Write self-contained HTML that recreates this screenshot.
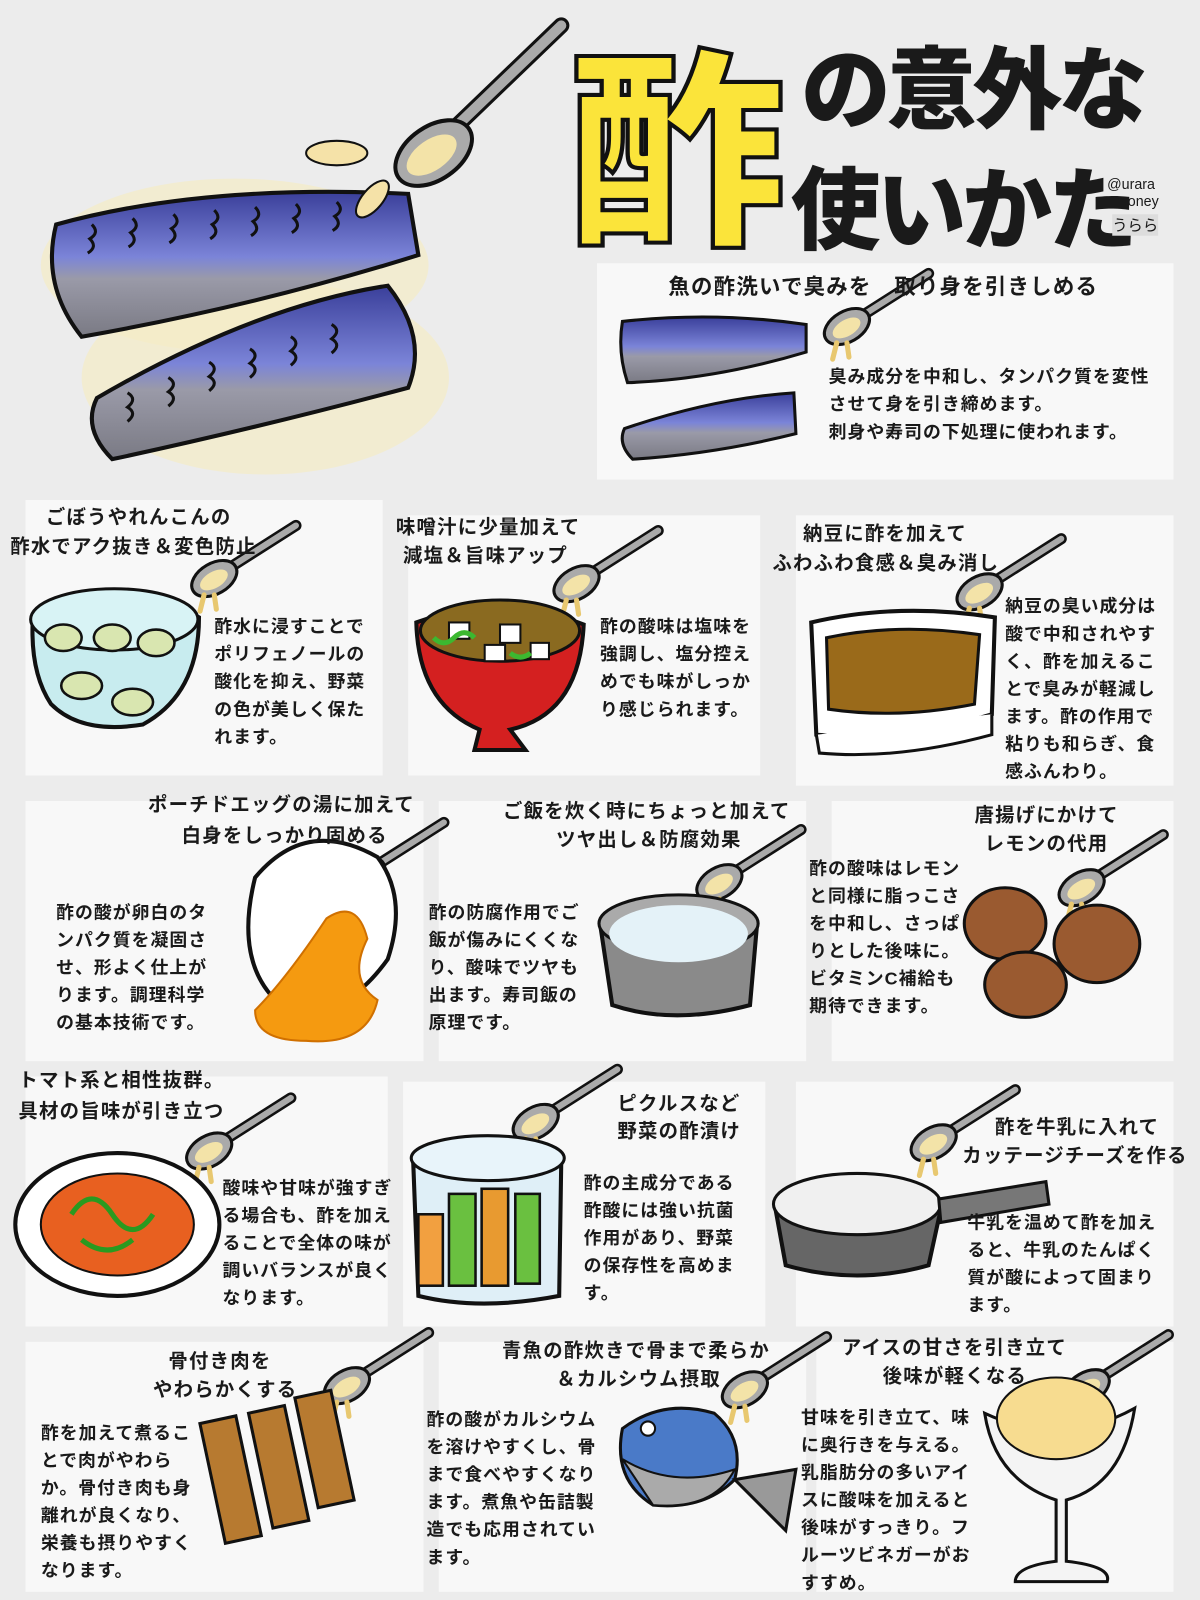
<!DOCTYPE html>
<html><head><meta charset="utf-8"><style>
html,body{margin:0;padding:0;background:#ececec;}
#w{position:relative;width:1176px;height:1568px;transform:scale(1.0204);transform-origin:0 0;overflow:hidden;background:#ececec;font-family:"Liberation Sans","Noto Sans CJK JP",sans-serif;color:#1a1a1a;}
.p{position:absolute;background:#f8f8f8;}
.t{position:absolute;font-size:17.5px;line-height:27px;font-weight:bold;letter-spacing:1px;white-space:nowrap;}
.h{position:absolute;font-size:19px;line-height:28px;font-weight:bold;letter-spacing:1.2px;white-space:nowrap;}
svg{position:absolute;left:0;top:0;}
</style></head><body><div id="w">
<div class="p" style="left:585px;top:258px;width:565px;height:212px"></div>
<div class="p" style="left:25px;top:490px;width:350px;height:270px"></div>
<div class="p" style="left:400px;top:505px;width:345px;height:255px"></div>
<div class="p" style="left:780px;top:505px;width:370px;height:265px"></div>
<div class="p" style="left:25px;top:785px;width:390px;height:255px"></div>
<div class="p" style="left:430px;top:785px;width:360px;height:255px"></div>
<div class="p" style="left:815px;top:785px;width:335px;height:255px"></div>
<div class="p" style="left:25px;top:1055px;width:355px;height:245px"></div>
<div class="p" style="left:395px;top:1060px;width:355px;height:240px"></div>
<div class="p" style="left:780px;top:1060px;width:370px;height:240px"></div>
<div class="p" style="left:25px;top:1315px;width:390px;height:245px"></div>
<div class="p" style="left:430px;top:1315px;width:360px;height:245px"></div>
<div class="p" style="left:800px;top:1315px;width:350px;height:245px"></div>

<svg width="1176" height="1568" viewBox="0 0 1176 1568">
<defs>
<linearGradient id="fg" x1="0" y1="0" x2="0" y2="1"><stop offset="0" stop-color="#3a3f9a"/><stop offset="0.45" stop-color="#7b84d8"/><stop offset="0.6" stop-color="#9a9aa8"/><stop offset="1" stop-color="#7a7a84"/></linearGradient>
<g id="sp"><line x1="14" y1="-10" x2="80" y2="-52" stroke="#111" stroke-width="11" stroke-linecap="round"/><line x1="14" y1="-10" x2="80" y2="-52" stroke="#aaa" stroke-width="6" stroke-linecap="round"/><ellipse cx="0" cy="0" rx="24" ry="15" transform="rotate(-30)" fill="#aaa" stroke="#111" stroke-width="3"/><ellipse cx="-1" cy="1" rx="15" ry="8" transform="rotate(-30)" fill="#f3e3a8"/><path d="M-10 16 l-4 16 M0 16 l2 14" stroke="#e8c870" stroke-width="5" stroke-linecap="round"/></g>
</defs>
<ellipse cx="230" cy="260" rx="190" ry="85" fill="#f5ecc6" opacity="0.7"/>
<ellipse cx="260" cy="370" rx="180" ry="95" fill="#f5ecc6" opacity="0.7"/>
<path d="M55 220 Q200 180 400 190 L410 250 Q250 300 80 330 Q40 280 55 220Z" fill="url(#fg)" stroke="#111" stroke-width="4"/>
<path d="M95 390 Q250 300 380 280 Q420 330 400 380 Q250 420 110 450 Q80 420 95 390Z" fill="url(#fg)" stroke="#111" stroke-width="4"/>
<g stroke="#111" stroke-width="3" fill="none">
<path d="M90 220 q8 8 -2 14 q8 8 -2 14 M130 214 q8 8 -2 14 q8 8 -2 14 M170 210 q8 8 -2 14 q8 8 -2 14 M210 206 q8 8 -2 14 q8 8 -2 14 M250 203 q8 8 -2 14 q8 8 -2 14 M290 200 q8 8 -2 14 q8 8 -2 14 M330 198 q8 8 -2 14 q8 8 -2 14"/>
<path d="M125 385 q10 6 0 14 q10 6 0 14 M165 370 q10 6 0 14 q10 6 0 14 M205 355 q10 6 0 14 q10 6 0 14 M245 342 q10 6 0 14 q10 6 0 14 M285 330 q10 6 0 14 q10 6 0 14 M325 318 q10 6 0 14 q10 6 0 14"/>
</g>
<line x1="420" y1="150" x2="550" y2="25" stroke="#111" stroke-width="16" stroke-linecap="round"/><line x1="420" y1="150" x2="550" y2="25" stroke="#aaa" stroke-width="10" stroke-linecap="round"/>
<ellipse cx="425" cy="150" rx="42" ry="26" transform="rotate(-35 425 150)" fill="#aaa" stroke="#111" stroke-width="4"/>
<ellipse cx="423" cy="152" rx="28" ry="15" transform="rotate(-35 423 152)" fill="#f3e3a8"/>
<ellipse cx="330" cy="150" rx="30" ry="12" fill="#f5e2a8" stroke="#111" stroke-width="2"/>
<ellipse cx="365" cy="195" rx="10" ry="22" transform="rotate(40 365 195)" fill="#f5e2a8" stroke="#111" stroke-width="2"/>
<path d="M610 315 Q700 305 790 318 L790 345 Q700 372 615 375 Q605 345 610 315Z" fill="url(#fg)" stroke="#111" stroke-width="3"/>
<path d="M612 420 Q700 390 778 385 L780 425 Q700 445 620 450 Q605 435 612 420Z" fill="url(#fg)" stroke="#111" stroke-width="3"/>
<use href="#sp" x="830" y="320"/>
<use href="#sp" x="210" y="567"/>
<path d="M32 610 Q110 560 195 605 Q195 680 140 710 Q80 720 50 690 Q30 660 32 610Z" fill="#c8ecef" stroke="#111" stroke-width="4"/>
<ellipse cx="112" cy="607" rx="82" ry="30" fill="#d8f3f5" stroke="#111" stroke-width="3"/>
<g fill="#d9e6b0" stroke="#111" stroke-width="2.5"><ellipse cx="62" cy="625" rx="18" ry="13"/><ellipse cx="110" cy="625" rx="18" ry="13"/><ellipse cx="153" cy="630" rx="18" ry="13"/><ellipse cx="80" cy="672" rx="20" ry="13"/><ellipse cx="130" cy="688" rx="20" ry="13"/></g>
<use href="#sp" x="565" y="572"/>
<path d="M408 610 Q490 580 572 612 Q568 700 500 715 L515 735 L465 735 L470 715 Q410 690 408 610Z" fill="#d42020" stroke="#111" stroke-width="4"/>
<ellipse cx="490" cy="618" rx="78" ry="30" fill="#8a6a20" stroke="#111" stroke-width="3"/>
<g fill="#fff" stroke="#111" stroke-width="2"><rect x="440" y="610" width="20" height="16"/><rect x="490" y="612" width="20" height="18"/><rect x="520" y="630" width="18" height="16"/><rect x="475" y="632" width="20" height="16"/></g>
<path d="M425 625 q10 10 20 0 q10 -10 20 0 M500 640 q10 8 20 0" stroke="#3cb830" stroke-width="5" fill="none"/>
<use href="#sp" x="960" y="580"/>
<path d="M795 610 Q880 590 975 605 L972 700 Q880 728 800 720Z" fill="#fff" stroke="#111" stroke-width="4"/>
<path d="M810 625 Q880 610 960 622 L955 690 Q880 705 812 695Z" fill="#9a6a1a" stroke="#111" stroke-width="3"/>
<path d="M800 720 L803 738 Q880 745 972 720 L972 700" fill="#fff" stroke="#111" stroke-width="3"/>
<use href="#sp" x="355" y="858"/>
<path d="M250 860 Q300 800 370 840 Q400 880 380 940 Q330 1010 270 980 Q230 940 250 860Z" fill="#fff" stroke="#111" stroke-width="4"/>
<path d="M320 900 Q350 880 360 920 Q340 960 370 980 Q360 1025 300 1020 Q250 1020 250 990 Q280 960 320 900Z" fill="#f59a10" stroke="#d07000" stroke-width="2"/>
<use href="#sp" x="705" y="865"/>
<path d="M588 905 L600 985 Q660 1005 735 985 L742 905Z" fill="#8a8a8a" stroke="#111" stroke-width="4"/>
<ellipse cx="665" cy="905" rx="78" ry="28" fill="#aaa" stroke="#111" stroke-width="3"/>
<ellipse cx="665" cy="915" rx="68" ry="28" fill="#e4f2f8"/>
<use href="#sp" x="1060" y="870"/>
<g fill="#9a5a30" stroke="#111" stroke-width="3"><ellipse cx="985" cy="905" rx="40" ry="35"/><ellipse cx="1075" cy="925" rx="42" ry="38"/><ellipse cx="1005" cy="965" rx="40" ry="32"/></g>
<use href="#sp" x="205" y="1128"/>
<ellipse cx="115" cy="1200" rx="100" ry="70" fill="#fff" stroke="#111" stroke-width="4"/>
<ellipse cx="115" cy="1200" rx="75" ry="50" fill="#e86020" stroke="#111" stroke-width="2"/>
<path d="M70 1190 q20 -30 40 0 q20 30 40 0 M80 1215 q25 20 50 0" stroke="#2a9a20" stroke-width="5" fill="none"/>
<use href="#sp" x="525" y="1100"/>
<path d="M405 1140 L410 1270 Q470 1285 548 1270 L550 1140Z" fill="#dfeff7" stroke="#111" stroke-width="4"/>
<ellipse cx="478" cy="1135" rx="75" ry="22" fill="#e8f4fa" stroke="#111" stroke-width="3"/>
<g stroke="#111" stroke-width="2.5"><rect x="410" y="1190" width="24" height="70" fill="#f2a040"/><rect x="440" y="1170" width="26" height="90" fill="#6ac040"/><rect x="472" y="1165" width="26" height="95" fill="#e89a30"/><rect x="505" y="1170" width="24" height="88" fill="#6ac040"/></g>
<use href="#sp" x="915" y="1120"/>
<path d="M760 1185 L770 1240 Q840 1260 910 1240 L922 1185Z" fill="#666" stroke="#111" stroke-width="4"/>
<ellipse cx="840" cy="1180" rx="82" ry="30" fill="#f0f0f0" stroke="#111" stroke-width="3"/>
<path d="M920 1175 L1025 1158 L1028 1180 L922 1198Z" fill="#777" stroke="#111" stroke-width="3"/>
<use href="#sp" x="340" y="1358"/>
<g stroke="#111" stroke-width="3"><rect x="208" y="1390" width="36" height="120" fill="#b77a30" transform="rotate(-12 226 1450)"/><rect x="255" y="1380" width="36" height="115" fill="#b77a30" transform="rotate(-12 273 1437)"/><rect x="300" y="1365" width="36" height="110" fill="#b77a30" transform="rotate(-12 318 1420)"/></g>
<use href="#sp" x="730" y="1362"/>
<path d="M610 1400 Q650 1370 700 1385 Q730 1410 720 1450 Q690 1480 640 1475 Q600 1450 610 1400Z" fill="#4a7ac8" stroke="#111" stroke-width="3"/>
<path d="M610 1430 Q660 1460 720 1440 Q700 1480 640 1475Z" fill="#aaa" stroke="#111" stroke-width="2"/>
<path d="M720 1450 L780 1440 L770 1500 Z" fill="#999" stroke="#111" stroke-width="3"/>
<circle cx="635" cy="1400" r="7" fill="#fff" stroke="#111" stroke-width="2"/>
<use href="#sp" x="1065" y="1360"/>
<path d="M965 1385 Q1040 1420 1112 1380 Q1100 1455 1045 1470 L1045 1530 Q1090 1535 1085 1550 L995 1550 Q995 1535 1035 1530 L1035 1470 Q975 1450 965 1385Z" fill="#f4f4f4" stroke="#111" stroke-width="3"/>
<ellipse cx="1035" cy="1390" rx="58" ry="40" fill="#f7dc90" stroke="#111" stroke-width="2"/>
</svg>

<div style="position:absolute;left:555px;top:15px;width:230px;overflow:hidden;font-size:205px;line-height:240px;font-weight:900;color:#fbe43a;-webkit-text-stroke:4px #111;font-family:'Noto Sans CJK JP',sans-serif;transform:scaleX(1.05);transform-origin:0 0;">酢</div>
<div style="position:absolute;left:785px;top:22px;font-size:88px;line-height:120px;font-weight:900;font-family:'Noto Sans CJK JP',sans-serif;letter-spacing:-4px;">の意外な</div>
<div style="position:absolute;left:775px;top:140px;font-size:88px;line-height:120px;font-weight:900;font-family:'Noto Sans CJK JP',sans-serif;letter-spacing:-4px;">使いかた</div>
<div style="position:absolute;left:1085px;top:172px;font-size:14px;line-height:17px;">@urara<br>&nbsp;-money</div>
<div style="position:absolute;left:1090px;top:210px;font-size:15px;background:#ddd;">うらら</div>

<div class="h" style="left:655px;top:268px;font-size:21px">魚の酢洗いで臭みを　取り身を引きしめる</div>
<div class="t" style="left:812px;top:356px">臭み成分を中和し、タンパク質を変性<br>させて身を引き締めます。<br>刺身や寿司の下処理に使われます。</div>

<div class="h" style="left:45px;top:494px">ごぼうやれんこんの</div>
<div class="h" style="left:10px;top:523px">酢水でアク抜き＆変色防止</div>
<div class="t" style="left:210px;top:601px">酢水に浸すことで<br>ポリフェノールの<br>酸化を抑え、野菜<br>の色が美しく保た<br>れます。</div>

<div class="h" style="left:388px;top:504px">味噌汁に少量加えて</div>
<div class="h" style="left:395px;top:532px">減塩＆旨味アップ</div>
<div class="t" style="left:588px;top:601px">酢の酸味は塩味を<br>強調し、塩分控え<br>めでも味がしっか<br>り感じられます。</div>

<div class="h" style="left:787px;top:510px">納豆に酢を加えて</div>
<div class="h" style="left:757px;top:539px">ふわふわ食感＆臭み消し</div>
<div class="t" style="left:985px;top:581px">納豆の臭い成分は<br>酸で中和されやす<br>く、酢を加えるこ<br>とで臭みが軽減し<br>ます。酢の作用で<br>粘りも和らぎ、食<br>感ふんわり。</div>

<div class="h" style="left:145px;top:776px">ポーチドエッグの湯に加えて</div>
<div class="h" style="left:178px;top:806px">白身をしっかり固める</div>
<div class="t" style="left:55px;top:881px">酢の酸が卵白のタ<br>ンパク質を凝固さ<br>せ、形よく仕上が<br>ります。調理科学<br>の基本技術です。</div>

<div class="h" style="left:493px;top:782px">ご飯を炊く時にちょっと加えて</div>
<div class="h" style="left:545px;top:810px">ツヤ出し＆防腐効果</div>
<div class="t" style="left:420px;top:881px">酢の防腐作用でご<br>飯が傷みにくくな<br>り、酸味でツヤも<br>出ます。寿司飯の<br>原理です。</div>

<div class="h" style="left:955px;top:786px">唐揚げにかけて</div>
<div class="h" style="left:965px;top:814px">レモンの代用</div>
<div class="t" style="left:793px;top:838px">酢の酸味はレモン<br>と同様に脂っこさ<br>を中和し、さっぱ<br>りとした後味に。<br>ビタミンC補給も<br>期待できます。</div>

<div class="h" style="left:18px;top:1046px">トマト系と相性抜群。</div>
<div class="h" style="left:18px;top:1076px">具材の旨味が引き立つ</div>
<div class="t" style="left:218px;top:1151px">酸味や甘味が強すぎ<br>る場合も、酢を加え<br>ることで全体の味が<br>調いバランスが良く<br>なります。</div>

<div class="h" style="left:605px;top:1069px">ピクルスなど</div>
<div class="h" style="left:605px;top:1096px">野菜の酢漬け</div>
<div class="t" style="left:572px;top:1146px">酢の主成分である<br>酢酸には強い抗菌<br>作用があり、野菜<br>の保存性を高めま<br>す。</div>

<div class="h" style="left:975px;top:1092px">酢を牛乳に入れて</div>
<div class="h" style="left:943px;top:1120px">カッテージチーズを作る</div>
<div class="t" style="left:948px;top:1185px">牛乳を温めて酢を加え<br>ると、牛乳のたんぱく<br>質が酸によって固まり<br>ます。</div>

<div class="h" style="left:165px;top:1321px">骨付き肉を</div>
<div class="h" style="left:150px;top:1349px">やわらかくする</div>
<div class="t" style="left:40px;top:1391px">酢を加えて煮るこ<br>とで肉がやわら<br>か。骨付き肉も身<br>離れが良くなり、<br>栄養も摂りやすく<br>なります。</div>

<div class="h" style="left:492px;top:1311px">青魚の酢炊きで骨まで柔らか</div>
<div class="h" style="left:545px;top:1339px">＆カルシウム摂取</div>
<div class="t" style="left:418px;top:1378px">酢の酸がカルシウム<br>を溶けやすくし、骨<br>まで食べやすくなり<br>ます。煮魚や缶詰製<br>造でも応用されてい<br>ます。</div>

<div class="h" style="left:825px;top:1308px">アイスの甘さを引き立て</div>
<div class="h" style="left:865px;top:1336px">後味が軽くなる</div>
<div class="t" style="left:785px;top:1376px">甘味を引き立て、味<br>に奥行きを与える。<br>乳脂肪分の多いアイ<br>スに酸味を加えると<br>後味がすっきり。フ<br>ルーツビネガーがお<br>すすめ。</div>
</div></body></html>
